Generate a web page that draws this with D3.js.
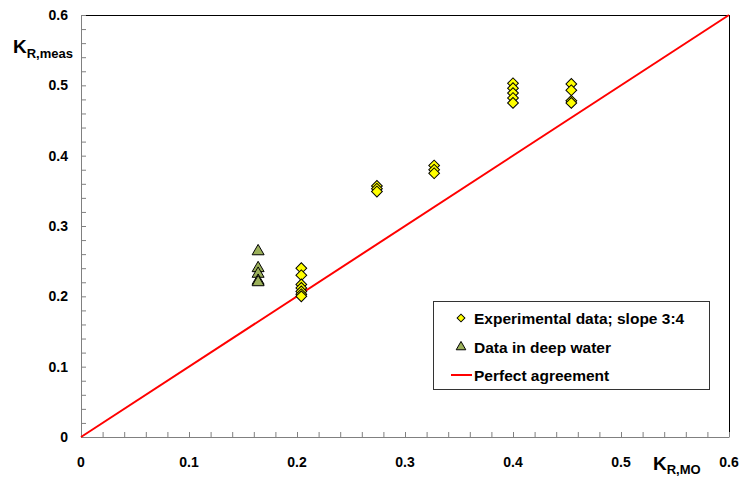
<!DOCTYPE html>
<html>
<head>
<meta charset="utf-8">
<script src="https://cdn.jsdelivr.net/npm/d3@7"></script>
<style>
  html, body { margin: 0; padding: 0; background: #fff; }
  svg { display: block; font-family: "Liberation Sans", Arial, sans-serif; }
</style>
</head>
<body>
<svg id="chart" width="742" height="477"></svg>
<script>
// Experimental data, slope 3:4 (x = K_R,MO, y = K_R,meas)
const expX = [0.204, 0.204, 0.204, 0.204, 0.204, 0.204, 0.204,
              0.274, 0.274, 0.274,
              0.327, 0.327, 0.327,
              0.400, 0.400, 0.400, 0.400, 0.400,
              0.454, 0.454, 0.454, 0.454];
const expY = [0.240, 0.230, 0.217, 0.212, 0.207, 0.203, 0.200,
              0.357, 0.353, 0.349,
              0.386, 0.380, 0.375,
              0.503, 0.496, 0.489, 0.482, 0.475,
              0.502, 0.493, 0.478, 0.475];

// Data in deep water
const deepX = [0.164, 0.164, 0.164, 0.164, 0.164];
const deepY = [0.264, 0.240, 0.232, 0.222, 0.220];

// Perfect agreement line
const lineX = [0, 0.6];
const lineY = [0, 0.6];

const xTicks = [0, 0.1, 0.2, 0.3, 0.4, 0.5, 0.6];
const yTicks = [0, 0.1, 0.2, 0.3, 0.4, 0.5, 0.6];
const xTickLabels = ["0", "0.1", "0.2", "0.3", "0.4", "0.5", "0.6"];
const yTickLabels = ["0", "0.1", "0.2", "0.3", "0.4", "0.5", "0.6"];
const minorStep = 0.02;

const legendLabels = ["Experimental data; slope 3:4", "Data in deep water", "Perfect agreement"];

const svg = d3.select("#chart");
const pLeft = 81, pRight = 729, pTop = 15, pBottom = 437;

const x = d3.scaleLinear().domain([0, 0.6]).range([pLeft, pRight]);
const y = d3.scaleLinear().domain([0, 0.6]).range([pBottom, pTop]);

const minorTicks = d3.range(0, 0.6 + 1e-9, minorStep);

// Frame
svg.append("line").attr("x1", pLeft).attr("x2", pRight).attr("y1", pTop + 0.5).attr("y2", pTop + 0.5)
  .attr("stroke", "#000").attr("stroke-width", 1);
svg.append("line").attr("x1", pRight + 0.5).attr("x2", pRight + 0.5).attr("y1", pTop).attr("y2", pBottom)
  .attr("stroke", "#000").attr("stroke-width", 1);

// Bottom axis (inward ticks)
const xAxis = d3.axisBottom(x).tickValues(minorTicks).tickSize(-5).tickSizeOuter(0).tickFormat("");
const gx = svg.append("g").attr("transform", `translate(0,${pBottom})`).call(xAxis);
gx.selectAll("path, line").attr("stroke", "#808080");

// Left axis (inward ticks)
const yAxis = d3.axisLeft(y).tickValues(minorTicks).tickSize(-5).tickSizeOuter(0).tickFormat("");
const gy = svg.append("g").attr("transform", `translate(${pLeft},0)`).call(yAxis);
gy.selectAll("path, line").attr("stroke", "#808080");

// Tick labels
svg.append("g").selectAll("text").data(xTicks).join("text")
  .attr("x", d => x(d)).attr("y", pBottom + 30)
  .attr("text-anchor", "middle")
  .attr("font-size", 14).attr("font-weight", "bold")
  .text((d, i) => xTickLabels[i]);

svg.append("g").selectAll("text").data(yTicks).join("text")
  .attr("x", pLeft - 13).attr("y", d => y(d) + 5)
  .attr("text-anchor", "end")
  .attr("font-size", 14).attr("font-weight", "bold")
  .text((d, i) => yTickLabels[i]);

// Axis titles
const yt = svg.append("text").attr("x", 13).attr("y", 53)
  .attr("font-weight", "bold").attr("font-size", 19);
yt.append("tspan").text("K");
yt.append("tspan").attr("font-size", 13).attr("dy", 4.5).text("R,meas");

const xt = svg.append("text").attr("x", 653).attr("y", 470)
  .attr("font-weight", "bold").attr("font-size", 19);
xt.append("tspan").text("K");
xt.append("tspan").attr("font-size", 13).attr("dy", 4).text("R,MO");

// Perfect agreement line
svg.append("line")
  .attr("x1", x(lineX[0])).attr("y1", y(lineY[0]))
  .attr("x2", x(lineX[1])).attr("y2", y(lineY[1]))
  .attr("stroke", "#ff0000").attr("stroke-width", 2);

// Markers
const diamond = d3.symbol().type(d3.symbolSquare).size(58);
const triangle = d3.symbol().type(d3.symbolTriangle).size(62);

svg.append("g").selectAll("path").data(deepX).join("path")
  .attr("d", triangle)
  .attr("transform", (d, i) => `translate(${x(d)},${y(deepY[i])})`)
  .attr("fill", "#9bb05a").attr("stroke", "#000").attr("stroke-width", 1);

svg.append("g").selectAll("path").data(expX).join("path")
  .attr("d", diamond)
  .attr("transform", (d, i) => `translate(${x(d)},${y(expY[i])}) rotate(45)`)
  .attr("fill", "#ffff00").attr("stroke", "#000").attr("stroke-width", 1);

// Legend
const lg = svg.append("g");
lg.append("rect").attr("x", 433.5).attr("y", 301.5).attr("width", 276).attr("height", 88)
  .attr("fill", "#fff").attr("stroke", "#333").attr("stroke-width", 1);
const rowsY = [318, 347, 375];
lg.append("path").attr("d", d3.symbol().type(d3.symbolSquare).size(30))
  .attr("transform", `translate(461,${rowsY[0]}) rotate(45)`)
  .attr("fill", "#ffff00").attr("stroke", "#000");
lg.append("path").attr("d", d3.symbol().type(d3.symbolTriangle).size(40))
  .attr("transform", `translate(461,${rowsY[1]})`)
  .attr("fill", "#9bb05a").attr("stroke", "#000");
lg.append("line").attr("x1", 451).attr("x2", 472).attr("y1", rowsY[2]).attr("y2", rowsY[2])
  .attr("stroke", "#ff0000").attr("stroke-width", 2);
lg.selectAll("text.lbl").data(legendLabels).join("text").attr("class", "lbl")
  .attr("x", 474).attr("y", (d, i) => rowsY[i] + 5.5)
  .attr("font-size", 15.5).attr("font-weight", "bold")
  .text(d => d);
</script>
</body>
</html>
